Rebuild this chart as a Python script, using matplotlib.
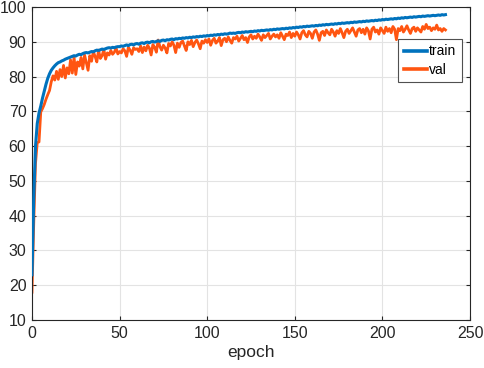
import numpy as np
import matplotlib
matplotlib.use("Agg")
import matplotlib.pyplot as plt

plt.rcParams['font.family'] = ['Liberation Sans', 'DejaVu Sans']

train = [
    23.0, 45.0, 60.0, 66.5, 69.5, 71.5, 73.8, 75.8, 77.8, 79.5,
    80.8, 81.8, 82.5, 83.1, 83.6, 84.0, 84.2, 84.5, 84.7, 85.0,
    85.2, 85.4, 85.6, 85.8, 86.0, 85.9, 86.2, 86.4, 86.3, 86.6,
    86.8, 86.9, 86.8, 87.0, 87.2, 87.1, 87.4, 87.6, 87.5, 87.7,
    87.9, 87.8, 88.0, 88.2, 88.3, 88.2, 88.4, 88.3, 88.5, 88.6,
    88.6, 88.8, 88.7, 88.9, 89.1, 88.9, 89.2, 89.3, 89.1, 89.4,
    89.5, 89.3, 89.6, 89.7, 89.5, 89.8, 89.9, 89.7, 90.0, 90.1,
    89.9, 90.1, 90.3, 90.1, 90.4, 90.5, 90.3, 90.6, 90.5, 90.7,
    90.8, 90.6, 90.9, 90.8, 91.0, 90.9, 91.1, 91.0, 91.2, 91.1,
    91.3, 91.2, 91.4, 91.3, 91.5, 91.4, 91.6, 91.5, 91.7, 91.6,
    91.8, 91.7, 91.9, 91.8, 92.0, 91.9, 92.1, 92.0, 92.2, 92.1,
    92.3, 92.2, 92.3, 92.5, 92.4, 92.5, 92.4, 92.6, 92.7, 92.6,
    92.8, 92.7, 92.9, 92.8, 92.9, 93.0, 92.9, 93.1, 93.0, 93.2,
    93.1, 93.3, 93.2, 93.3, 93.4, 93.3, 93.5, 93.4, 93.6, 93.5,
    93.7, 93.6, 93.7, 93.8, 93.7, 93.9, 93.8, 94.0, 93.9, 94.1,
    94.0, 94.2, 94.1, 94.3, 94.2, 94.4, 94.3, 94.5, 94.4, 94.5,
    94.6, 94.5, 94.7, 94.6, 94.8, 94.7, 94.9, 94.8, 95.0, 94.9,
    95.0, 95.1, 95.0, 95.2, 95.1, 95.3, 95.2, 95.4, 95.3, 95.4,
    95.5, 95.4, 95.6, 95.5, 95.7, 95.6, 95.7, 95.8, 95.7, 95.9,
    95.8, 96.0, 95.9, 96.0, 96.1, 96.0, 96.2, 96.1, 96.3, 96.2,
    96.4, 96.3, 96.5, 96.4, 96.5, 96.6, 96.5, 96.7, 96.6, 96.8,
    96.7, 96.9, 96.8, 97.0, 96.9, 97.0, 97.1, 97.0, 97.2, 97.1,
    97.2, 97.3, 97.2, 97.4, 97.3, 97.4, 97.5, 97.4, 97.5, 97.6,
    97.5, 97.6, 97.7, 97.6, 97.8, 97.7, 97.8,
]

val = [
    18.0, 38.0, 55.0, 61.0, 61.2, 69.8, 70.8, 72.0, 73.5, 74.8,
    76.0, 78.5, 80.2, 79.0, 81.5, 79.2, 82.0, 80.0, 83.2, 79.6,
    82.5, 80.8, 84.8, 81.0, 85.6, 80.6, 84.2, 83.0, 85.5, 82.2,
    86.2, 84.0, 81.8, 86.0, 84.4, 87.2, 85.8, 84.2, 87.6, 85.2,
    86.0, 87.8, 85.0, 86.8, 86.2, 87.5, 86.4, 87.0, 88.2, 86.5,
    87.2, 86.8, 88.0, 87.4, 85.8, 88.4, 87.6, 86.4, 88.3, 87.8,
    88.0, 87.2, 88.8, 86.9, 88.5, 87.4, 89.0, 88.2, 86.2, 89.2,
    88.4, 87.0, 90.5, 88.6, 87.6, 89.0, 88.2, 86.8, 89.5, 88.8,
    90.0, 89.0, 86.9, 89.6, 88.4, 89.8, 90.2, 88.8, 87.5, 90.0,
    89.2, 90.4, 88.6, 89.8, 90.5, 89.4, 88.0, 90.2, 89.6, 90.6,
    89.8, 90.8, 89.0, 90.4, 91.0, 89.6, 90.2, 91.2, 88.9, 90.6,
    91.0, 90.0, 91.4, 90.4, 89.6, 91.2, 90.8, 91.6, 90.2, 91.0,
    91.8, 90.6, 91.2, 89.8, 91.4, 92.0, 90.8, 91.6, 91.0, 92.2,
    91.4, 90.4, 92.0, 91.2, 91.8, 92.4, 90.8, 91.6, 92.2, 91.4,
    92.0, 91.0, 92.6, 91.6, 90.6, 92.2, 91.8, 92.8, 91.2, 92.4,
    91.6, 92.8, 92.0, 90.8, 92.6, 93.2, 92.0, 91.4, 93.0, 92.4,
    91.0, 92.8, 93.4, 92.2, 90.4, 92.6, 93.0, 91.8, 93.4, 92.6,
    92.0, 93.6, 92.8, 91.6, 93.2, 92.4, 93.8, 92.6, 91.2, 93.0,
    93.6, 92.4, 93.2, 94.0, 92.8, 91.6, 93.4, 93.8, 92.6, 93.6,
    92.2, 94.0, 93.2, 90.8, 93.6, 94.2, 92.8, 93.4, 92.2, 94.0,
    93.2, 92.4, 94.2, 93.0, 93.8, 92.6, 94.4, 93.6, 90.6, 93.8,
    93.2, 94.4, 92.8, 93.6, 94.6, 93.4, 92.4, 93.8, 94.2, 93.0,
    94.0, 93.4, 92.8, 94.4, 93.6, 95.0, 93.8, 94.2, 93.2, 94.0,
    93.6, 94.8, 93.4, 93.8, 93.0, 93.8, 93.4,
]

xticks = [0, 50, 100, 150, 200, 250]
yticks = [10, 20, 30, 40, 50, 60, 70, 80, 90, 100]
series_labels = ["train", "val"]
xlabel = "epoch"

blue = "#0072BD"
orange = "#FF5511"
dark = "#262626"

fig = plt.figure(figsize=(4.84, 3.68), dpi=100)
ax = fig.add_axes([32/484, 48/368, 438/484, 313/368])

ax.plot(np.arange(len(train)), train, color=blue, lw=2.2, label=series_labels[0], zorder=3)
ax.plot(np.arange(len(val)), val, color=orange, lw=2.0, label=series_labels[1], zorder=2)

ax.set_xlim(0, 250)
ax.set_ylim(10, 100)
ax.set_xticks(xticks)
ax.set_yticks(yticks)
ax.grid(True, color="#E3E3E3", lw=0.8)
ax.set_axisbelow(True)
ax.tick_params(direction="in", length=3, width=0.8, color=dark, labelcolor=dark,
               labelsize=11.5, top=True, right=True, pad=4)
for s in ax.spines.values():
    s.set_color(dark)
    s.set_linewidth(0.8)
ax.set_xlabel(xlabel, fontsize=12.5, color=dark, labelpad=3)

leg = ax.legend(loc="upper right", bbox_to_anchor=(0.982, 0.898), borderaxespad=0,
                fontsize=10, handlelength=1.7, handletextpad=0.15, borderpad=0.4,
                labelspacing=0.3, fancybox=False, framealpha=1, edgecolor="#505050")
leg.get_frame().set_linewidth(0.8)
for line in leg.get_lines():
    line.set_linewidth(2.6)

fig.savefig("out.png", dpi=100)
